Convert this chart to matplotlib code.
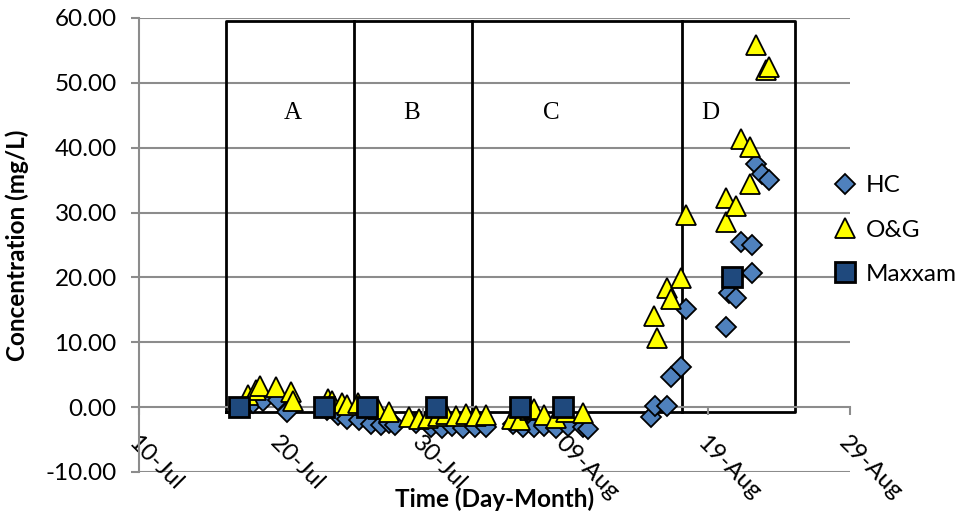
import matplotlib
matplotlib.use('Agg')
import matplotlib.pyplot as plt
import numpy as np

# x values are days after 10-Jul
x_ticks = [0, 10, 20, 30, 40, 50]
x_tick_labels = ['10-Jul', '20-Jul', '30-Jul', '09-Aug', '19-Aug', '29-Aug']
y_ticks = [-10, 0, 10, 20, 30, 40, 50, 60]

hc_days = [8.0, 8.7, 9.8, 10.4,
           13.2, 14.0, 14.6, 15.5, 16.3, 17.0, 17.6, 18.0,
           19.5, 20.5, 21.3, 22.0, 22.8, 23.6, 24.4,
           26.3, 27.0, 27.8, 28.5, 29.3, 30.2, 31.2, 31.6,
           36.0, 36.3, 37.1, 37.4, 38.1, 38.5,
           41.3, 41.5, 42.0, 42.3, 43.1, 43.1, 43.4, 43.8, 44.3]
hc_vals = [0.6, 0.9, 1.1, -0.8,
           -0.5, -1.2, -1.8, -2.0, -2.6, -2.8, -2.5, -2.7,
           -2.5, -3.0, -3.2, -2.9, -3.2, -3.0, -3.1,
           -2.6, -3.0, -3.1, -2.9, -3.2, -2.9, -3.0, -3.3,
           -1.5, 0.1, 0.2, 4.6, 6.2, 15.2,
           12.3, 17.6, 16.8, 25.5, 25.0, 20.7, 37.5, 36.0, 35.0]

og_days = [7.7, 8.2, 8.5, 9.6, 10.7, 10.8,
           13.3, 13.6, 14.3, 14.6, 15.4, 16.8, 17.6,
           19.0, 19.7, 20.3, 21.0, 21.6, 22.3, 23.0, 23.7, 24.4,
           26.2, 26.8, 27.5, 27.8, 28.5, 29.3, 30.0, 31.2,
           36.2, 36.4, 37.1, 37.4, 38.1, 38.5,
           41.3, 41.3, 42.0, 42.3, 43.0, 43.0, 43.4, 44.1, 44.3]
og_vals = [1.8, 2.6, 3.3, 3.1, 2.3, 1.0,
           1.2, 0.9, 0.6, 0.4, 0.6, -0.3, -0.8,
           -1.5, -1.8, -1.6, -1.4, -1.1, -1.3, -1.0, -1.3, -1.2,
           -1.8, -2.0, -0.5, -0.3, -1.2, -1.6, -0.8, -0.9,
           14.0, 10.6, 18.4, 16.6, 19.9, 29.6,
           28.5, 32.3, 31.0, 41.3, 40.1, 34.4, 55.8, 52.0, 52.5]

maxxam_days = [7.05, 13.0, 16.0, 20.9, 26.8, 29.8, 41.7]
maxxam_vals = [0.0, 0.0, 0.0, 0.0, 0.0, 0.0, 20.0]

# treatment phases drawn as boxes
phase_edges = [6.15, 15.1, 23.4, 38.2, 46.15]
phase_labels = ['A', 'B', 'C', 'D']
phase_label_x = [10.8, 19.2, 29.0, 40.2]
box_bottom, box_top = -0.8, 59.6

plt.rcParams['font.family'] = ['Lato', 'DejaVu Sans']
fs = 17.5

fig = plt.figure(figsize=(9.72, 5.16), dpi=100)
ax = fig.add_axes([139 / 972, 44 / 516, (850 - 139) / 972, (472 - 18) / 516])

grid_col = '#8c8c8c'
for y in y_ticks:
    if y != 0:
        ax.axhline(y, color=grid_col, lw=1.5, zorder=0)

# boxes
ax.plot([phase_edges[0], phase_edges[-1], phase_edges[-1], phase_edges[0], phase_edges[0]],
        [box_bottom, box_bottom, box_top, box_top, box_bottom], color='black', lw=2, zorder=1)
for e in phase_edges[1:-1]:
    ax.plot([e, e], [box_bottom, box_top], color='black', lw=2, zorder=1)
for lab, lx in zip(phase_labels, phase_label_x):
    ax.text(lx, 45.4, lab, ha='center', va='center', fontsize=18,
            family='Liberation Serif', zorder=1)

ax.plot(hc_days, hc_vals, 'D', ms=10.5, mfc='#4f81bd', mec='black', mew=1.3,
        label='HC', zorder=3)
ax.plot(og_days, og_vals, '^', ms=15, mfc='#ffff00', mec='black', mew=1.3,
        label='O&G', zorder=4)
ax.plot(maxxam_days, maxxam_vals, 's', ms=15, mfc='#1f497d', mec='black', mew=2,
        label='Maxxam', zorder=5)

# spine position must be set before tick labels (it resets the ticks)
ax.spines['top'].set_visible(False)
ax.spines['right'].set_visible(False)
ax.spines['bottom'].set_position(('data', 0))
ax.spines['bottom'].set_color(grid_col)
ax.spines['left'].set_color(grid_col)
ax.spines['bottom'].set_linewidth(1.5)
ax.spines['left'].set_linewidth(1.5)

ax.set_xlim(0, 50)
ax.set_ylim(-10, 60)
ax.set_xticks(x_ticks)
ax.set_xticklabels(x_tick_labels, rotation=-45, ha='left', va='top',
                   rotation_mode='anchor', fontsize=fs)
ax.set_yticks(y_ticks)
ax.set_yticklabels([f'{v:.2f}' for v in y_ticks], fontsize=fs)
ax.tick_params(axis='both', color=grid_col, width=1.5, length=6, direction='out')
ax.tick_params(axis='x', pad=12)
ax.tick_params(axis='y', pad=10)

ax.set_ylabel('Concentration (mg/L)', fontsize=fs, fontweight='bold')
ax.yaxis.set_label_coords(-0.155, 0.5)
ax.set_xlabel('Time (Day-Month)', fontsize=fs, fontweight='bold')
ax.xaxis.set_label_coords(0.5, -0.035)

leg = ax.legend(loc='center left', bbox_to_anchor=(0.976, 0.533), frameon=False,
                fontsize=fs, labelspacing=0.95, handletextpad=0.35, handlelength=1.0,
                borderaxespad=0, borderpad=0)

fig.savefig('out.png', dpi=100)
